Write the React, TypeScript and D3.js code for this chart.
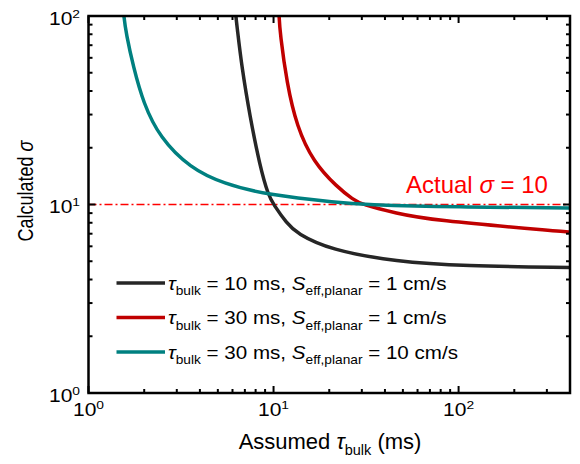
import React from 'react';
import * as d3 from 'd3';

const W = 580;
const H = 464;
const PL = 88.5, PR = 570, PT = 16, PB = 393;

// Series values (assumed tau_bulk in ms -> calculated sigma)
const blackX = [6.2, 6.25, 6.35, 6.73, 7.46, 8.45, 9.37, 10, 11.8, 13.35, 20.2, 46.3, 106, 400, 400];
const blackY = [120, 100, 88, 53.8, 29.2, 15.9, 11.2, 10.0, 7.94, 7.03, 5.74, 4.97, 4.72, 4.63, 4.63];

const redX = [10.65, 10.7, 10.85, 11.8, 13.35, 16.4, 22, 27, 30, 46.3, 70, 368, 400, 400];
const redY = [120, 100, 81, 44, 25.9, 16.8, 12.4, 10.6, 10.0, 8.98, 8.28, 7.18, 7.15, 7.15];

const tealX = [1.53, 1.55, 1.6, 1.747, 1.98, 2.43, 3.54, 5.35, 9.19, 22.9, 30, 100, 368, 400, 400];
const tealY = [120, 100, 80, 53.8, 34.4, 22.6, 15.6, 12.9, 11.25, 10.2, 10.0, 9.68, 9.6, 9.58, 9.58];

const seriesColors = ['#262626', '#c00000', '#008080'];
const legendTau = ['10', '30', '30'];
const legendS = ['1', '1', '10'];

const actualSigma = 10;
const xMajor = [1, 10, 100];
const yMajor = [1, 10, 100];
const xDomain = [1, 400];
const yDomain = [1, 100];

const FONT = '"Liberation Sans", Arial, Helvetica, sans-serif';

const x = d3.scaleLog().domain(xDomain).range([PL, PR]);
const y = d3.scaleLog().domain(yDomain).range([PB, PT]);

function minorTicks(domain: number[]) {
  const out: number[] = [];
  for (let e = 0; e < 3; e++) {
    for (let m = 2; m <= 9; m++) {
      const v = m * Math.pow(10, e);
      if (v > domain[0] && v <= domain[1]) out.push(v);
    }
  }
  return out;
}

function T({ x0, y0, sx = 1, size, anchor = 'start', rotate = 0, fill = '#000', children }: any) {
  const tr = `translate(${x0},${y0}) scale(${sx},1)` + (rotate ? ` rotate(${rotate})` : '');
  return (
    <text transform={tr} fontSize={size} textAnchor={anchor} fill={fill} fontFamily={FONT} style={{ whiteSpace: 'pre' }}>
      {children}
    </text>
  );
}

export default function App() {
  const line = d3
    .line<[number, number]>()
    .x((d) => x(d[0]))
    .y((d) => y(d[1]))
    .curve(d3.curveBasis);

  const series = [
    { xs: blackX, ys: blackY },
    { xs: redX, ys: redY },
    { xs: tealX, ys: tealY },
  ];

  const xMin = minorTicks(xDomain);
  const yMin = minorTicks(yDomain);
  const MAJ = 7, MIN = 4;

  const legendRows = [283, 317.5, 352];

  return (
    <svg width={W} height={H} style={{ position: 'absolute', left: 0, top: 0, background: '#fff' }}>
      <defs>
        <clipPath id="plot">
          <rect x={PL} y={PT} width={PR - PL} height={PB - PT} />
        </clipPath>
      </defs>

      {/* reference line */}
      <line x1={PL} x2={PR} y1={y(actualSigma)} y2={y(actualSigma)} stroke="#ff0000" strokeWidth={1.5} strokeDasharray="8,3,2,3" />

      {/* curves */}
      <g clipPath="url(#plot)">
        {series.map((s, i) => (
          <path
            key={i}
            d={line(s.xs.map((v, j) => [v, s.ys[j]] as [number, number])) || ''}
            fill="none"
            stroke={seriesColors[i]}
            strokeWidth={3.5}
          />
        ))}
      </g>

      {/* ticks */}
      <g stroke="#000" strokeWidth={2}>
        {xMajor.concat(xMin).map((v, i) => {
          const len = xMajor.includes(v) ? MAJ : MIN;
          const px = x(v);
          return (
            <g key={'x' + i}>
              <line x1={px} x2={px} y1={PB} y2={PB - len} />
              <line x1={px} x2={px} y1={PT} y2={PT + len} />
            </g>
          );
        })}
        {yMajor.concat(yMin).map((v, i) => {
          const len = yMajor.includes(v) ? MAJ : MIN;
          const py = y(v);
          return (
            <g key={'y' + i}>
              <line x1={PL} x2={PL + len} y1={py} y2={py} />
              <line x1={PR} x2={PR - len} y1={py} y2={py} />
            </g>
          );
        })}
      </g>

      {/* frame */}
      <rect x={PL} y={PT} width={PR - PL} height={PB - PT} fill="none" stroke="#000" strokeWidth={2.5} />

      {/* x tick labels */}
      {xMajor.map((v) => (
        <T key={'xl' + v} x0={x(v)} y0={416} sx={1.2} size={17.5} anchor="middle">
          10<tspan fontSize={11.5} dy={-7}>{String(Math.round(Math.log10(v)))}</tspan>
        </T>
      ))}
      {/* y tick labels */}
      {yMajor.map((v) => (
        <T key={'yl' + v} x0={80} y0={y(v) + 8.5} sx={1.2} size={17.5} anchor="end">
          10<tspan fontSize={11.5} dy={-7}>{String(Math.round(Math.log10(v)))}</tspan>
        </T>
      ))}

      {/* axis titles */}
      <T x0={330} y0={449} sx={1} size={22} anchor="middle">
        {'Assumed '}
        <tspan fontStyle="italic">τ</tspan>
        <tspan fontSize={14.5} dy={6}>bulk</tspan>
        <tspan dy={-6}>{' (ms)'}</tspan>
      </T>
      <T x0={33} y0={191} sx={1.25} size={18} anchor="middle" rotate={-90}>
        {'Calculated '}
        <tspan fontStyle="italic">σ</tspan>
      </T>

      {/* actual sigma annotation */}
      <T x0={406} y0={193} sx={1} size={24} fill="#ff0000">
        {'Actual '}
        <tspan fontStyle="italic">σ</tspan>
        {' = ' + actualSigma}
      </T>

      {/* legend */}
      {legendRows.map((ry, i) => (
        <g key={'lg' + i}>
          <line x1={116.5} x2={165} y1={ry} y2={ry} stroke={seriesColors[i]} strokeWidth={3.5} />
          <T x0={168} y0={ry + 6.5} sx={1.125} size={18.3}>
            <tspan fontStyle="italic">τ</tspan>
            <tspan fontSize={12.2} dy={5.5}>bulk</tspan>
            <tspan dy={-5.5}>{' = ' + legendTau[i] + ' ms, '}</tspan>
            <tspan fontStyle="italic">S</tspan>
            <tspan fontSize={12.2} dy={5.5}>eff,planar</tspan>
            <tspan dy={-5.5}>{' = ' + legendS[i] + ' cm/s'}</tspan>
          </T>
        </g>
      ))}
    </svg>
  );
}
